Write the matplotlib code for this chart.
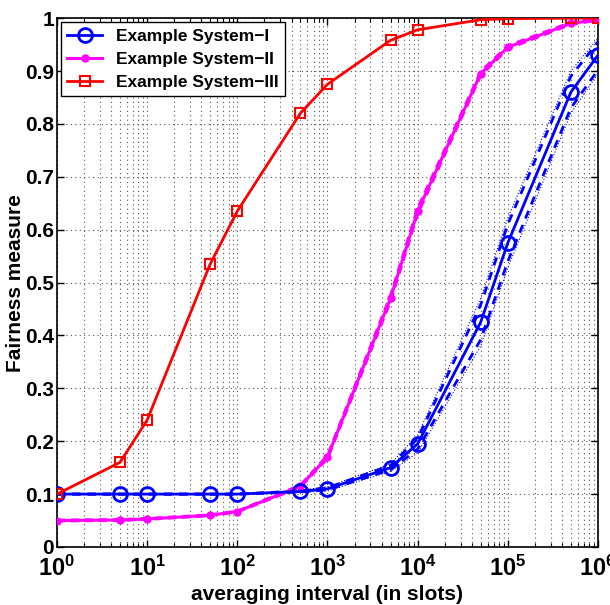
import matplotlib
matplotlib.use("Agg")
import matplotlib.pyplot as plt
from matplotlib.ticker import LogLocator, NullFormatter

plt.rcParams["font.family"] = ["Liberation Sans", "DejaVu Sans"]
plt.rcParams["font.weight"] = "bold"

# -----------------------------
# Data
# -----------------------------
interval = [1, 5, 10, 50, 100, 500, 1000, 5000, 1e4, 5e4, 1e5, 5e5, 1e6]

sys1 = [0.100, 0.100, 0.100, 0.100, 0.100, 0.105, 0.110, 0.150, 0.195, 0.425, 0.575, 0.860, 0.930]
sys1_hi = [0.100, 0.100, 0.100, 0.100, 0.100, 0.106, 0.112, 0.154, 0.205, 0.458, 0.610, 0.890, 0.955]
sys1_lo = [0.100, 0.100, 0.100, 0.100, 0.100, 0.104, 0.108, 0.146, 0.185, 0.392, 0.540, 0.830, 0.902]
sys1_hi2 = [0.100, 0.100, 0.100, 0.100, 0.100, 0.107, 0.114, 0.157, 0.212, 0.470, 0.622, 0.900, 0.962]
sys1_lo2 = [0.100, 0.100, 0.100, 0.100, 0.100, 0.103, 0.106, 0.143, 0.178, 0.380, 0.528, 0.820, 0.895]

sys2 = [0.050, 0.051, 0.053, 0.060, 0.067, 0.115, 0.170, 0.470, 0.635, 0.895, 0.945, 0.990, 0.997]
sys2_hi = [0.051, 0.052, 0.054, 0.061, 0.068, 0.117, 0.173, 0.476, 0.641, 0.899, 0.948, 0.992, 0.998]
sys2_lo = [0.049, 0.050, 0.052, 0.059, 0.066, 0.113, 0.167, 0.464, 0.629, 0.891, 0.942, 0.988, 0.996]

sys3 = [0.100, 0.160, 0.240, 0.535, 0.635, 0.820, 0.875, 0.958, 0.978, 0.997, 0.999, 1.000, 1.000]

yticks = [0, 0.1, 0.2, 0.3, 0.4, 0.5, 0.6, 0.7, 0.8, 0.9, 1.0]
ytick_labels = ["0", "0.1", "0.2", "0.3", "0.4", "0.5", "0.6", "0.7", "0.8", "0.9", "1"]
labels = ["Example System\u2212I", "Example System\u2212II", "Example System\u2212III"]

# -----------------------------
# Plot
# -----------------------------
fig = plt.figure(figsize=(6.10, 6.05), dpi=100)
ax = fig.add_axes([0.0934, 0.0959, 0.8869, 0.8741])

ax.plot(interval, sys1, "-", color="blue", lw=2, marker="o", ms=10,
        mfc="none", mew=2, label=labels[0], zorder=5)
ax.plot(interval, sys1_hi, "--", color="blue", lw=2, dashes=(3, 2.5))
ax.plot(interval, sys1_lo, "--", color="blue", lw=2, dashes=(3, 2.5))
ax.plot(interval, sys1_hi2, ":", color="blue", lw=0.8)
ax.plot(interval, sys1_lo2, ":", color="blue", lw=0.8)

ax.plot(interval, sys2, "-", color="magenta", lw=2.2, marker="o", ms=5,
        label=labels[1], zorder=4)
ax.plot(interval, sys2_hi, "--", color="magenta", lw=2, dashes=(3, 2))
ax.plot(interval, sys2_lo, "--", color="magenta", lw=2, dashes=(3, 2))

ax.plot(interval, sys3, "-", color="red", lw=2, marker="s", ms=7,
        mfc="none", mew=1.5, label=labels[2], zorder=6)

ax.set_xscale("log")
ax.set_xlim(1, 1e6)
ax.set_ylim(0, 1)
ax.set_yticks(yticks, ytick_labels)
ax.xaxis.set_major_locator(LogLocator(base=10, numticks=10))
ax.xaxis.set_minor_locator(LogLocator(base=10, subs=range(2, 10), numticks=10))
ax.xaxis.set_minor_formatter(NullFormatter())

ax.grid(True, which="major", linestyle=(0, (1, 3)), color="#555555", lw=0.8)
ax.grid(True, which="minor", axis="x", linestyle=(0, (1, 3)), color="#555555", lw=0.8)
ax.tick_params(which="both", direction="in", top=True, right=True, labelsize=15)
ax.tick_params(axis="y", which="major", pad=2)
ax.tick_params(axis="x", which="major", labelsize=17, pad=6)
ax.tick_params(which="major", length=5, width=1)
ax.tick_params(which="minor", length=3, width=0.8)
for s in ax.spines.values():
    s.set_linewidth(1.2)

ax.set_xlabel("averaging interval (in slots)", fontsize=15, fontweight="bold", labelpad=3)
ax.set_ylabel("Fairness measure", fontsize=15, fontweight="bold", labelpad=0)

leg = ax.legend(loc="upper left", fontsize=12.5, framealpha=1, fancybox=False,
                edgecolor="black", borderaxespad=0.25, handlelength=2.0,
                borderpad=0.35, labelspacing=0.45)
leg.get_frame().set_linewidth(1)

fig.savefig("out.png", dpi=100)
